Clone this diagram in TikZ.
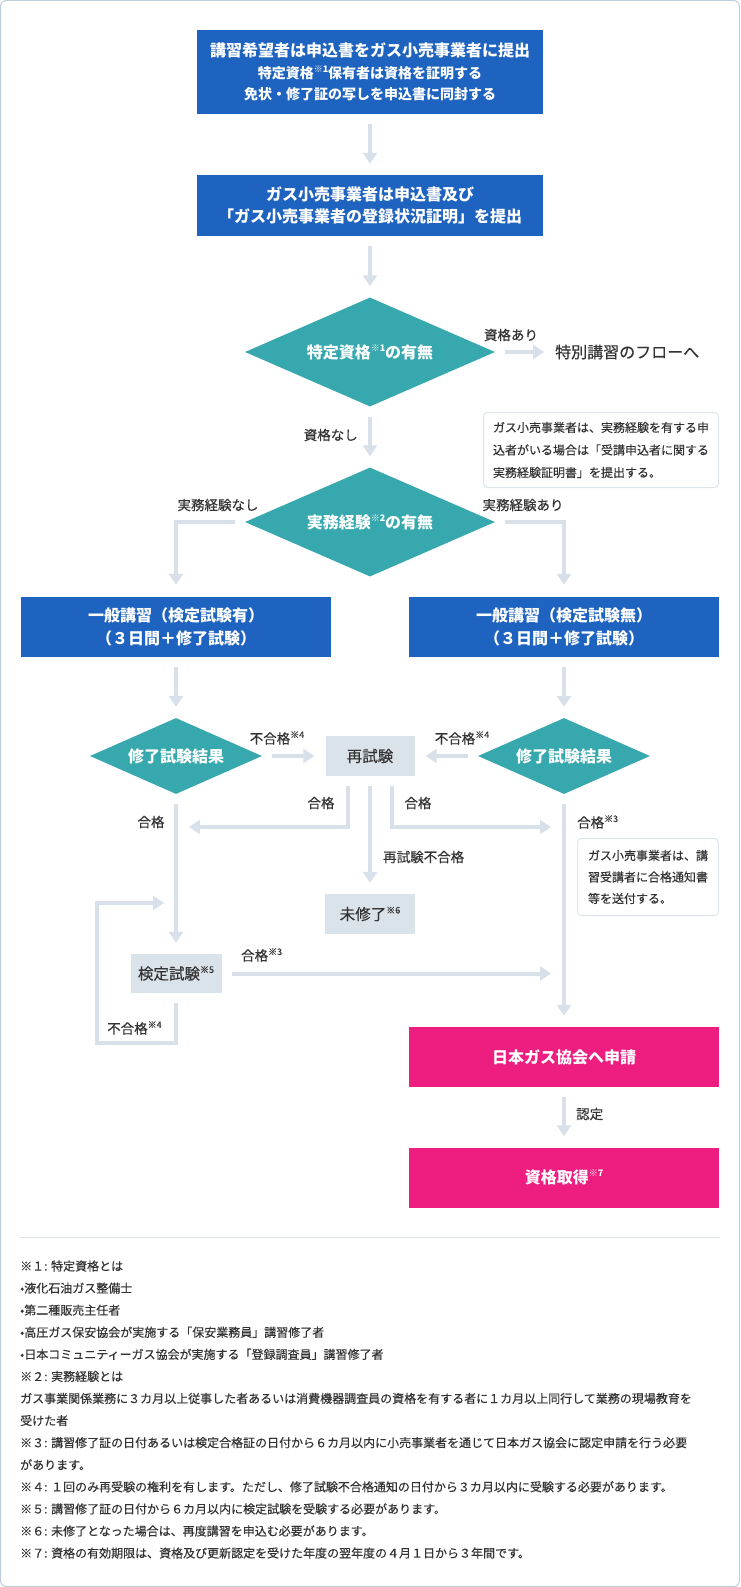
\documentclass[tikz,border=0pt]{standalone}
\usepackage{fontspec}
\setmainfont{Noto Sans CJK JP}
\newfontfamily\midjp{Noto Sans CJK JP}[FakeBold=0.35]
\usetikzlibrary{arrows.meta,shapes.geometric}

\definecolor{boxblue}{HTML}{1E63BF}
\definecolor{diateal}{HTML}{36A8AE}
\definecolor{boxpink}{HTML}{EE1E80}
\definecolor{boxgray}{HTML}{DBE3EA}
\definecolor{flowgray}{HTML}{D8E1E9}
\definecolor{textdark}{HTML}{333333}
\definecolor{framec}{HTML}{BFCEDD}
\definecolor{notec}{HTML}{DDE4EB}

\newcommand{\kome}[1]{\raisebox{0.42em}{\fontsize{9}{9}\selectfont ※#1}}

\tikzset{
  bluebox/.style={fill=boxblue, text=white, font=\bfseries\fontsize{16}{23}\selectfont, align=center, inner sep=0pt, minimum width=310pt, minimum height=60pt},
  pinkbox/.style={bluebox, fill=boxpink},
  graybox/.style={fill=boxgray, text=textdark, font=\midjp\fontsize{15.5}{20}\selectfont, inner sep=0pt},
  decision/.style={shape=diamond, fill=diateal, text=white, font=\bfseries\fontsize{16}{20}\selectfont, inner sep=0pt},
  note/.style={draw=notec, line width=1pt, rounded corners=4pt, text=textdark, align=left, inner sep=0pt},
  lbl/.style={text=textdark, font=\midjp\fontsize{13.5}{16}\selectfont, inner sep=0pt},
  fn/.style={text=textdark, font=\midjp\fontsize{12}{16}\selectfont, inner sep=0pt, anchor=west},
  flow/.style={draw=flowgray, line width=4pt, ->, shorten <=10pt, shorten >=11pt}
}

\begin{document}
\begin{tikzpicture}[x=1pt,y=-1pt,>={Triangle[length=11pt,width=14pt]}]
  \useasboundingbox (0,0) rectangle (740,1587);
  \draw[framec,line width=1pt,rounded corners=6pt] (0.5,0.5) rectangle (739.5,1586.5);

  % application
  \node[bluebox, minimum width=346pt, minimum height=84pt, font=\bfseries\fontsize{14}{21.5}\selectfont] (apply) at (370,72) {{\fontsize{16}{21.5}\selectfont 講習希望者は申込書をガス小売事業者に提出}\\特定資格\kome{1}保有者は資格を証明する\\免状・修了証の写しを申込書に同封する};
  \node[bluebox, minimum width=346pt, minimum height=61pt, font=\bfseries\fontsize{16}{22}\selectfont] (submit) at (370,205.5) {ガス小売事業者は申込書及び\\「ガス小売事業者の登録状況証明」を提出};

  % decisions
  \node[decision, minimum width=250pt, minimum height=109pt, aspect=2.3] (qual) at (370,352) {特定資格\kome{1}の有無};
  \node[anchor=west, inner sep=0pt, text=textdark, font=\midjp\fontsize{16}{20}\selectfont] (special) at (555,352) {特別講習のフローへ};
  \node[note, anchor=north west, minimum width=235pt, minimum height=75pt, font=\midjp\fontsize{12}{22.5}\selectfont] (note1) at (483,412) {ガス小売事業者は、実務経験を有する申\\込者がいる場合は「受講申込者に関する\\実務経験証明書」を提出する。};
  \node[decision, minimum width=250pt, minimum height=109pt, aspect=2.3] (exper) at (370,522) {実務経験\kome{2}の有無};

  % courses
  \node[bluebox] (coursea) at (176,627) {一般講習（検定試験有）\\（３日間＋修了試験）};
  \node[bluebox] (courseb) at (564,627) {一般講習（検定試験無）\\（３日間＋修了試験）};
  \node[decision, minimum width=172pt, minimum height=76pt, aspect=2.26] (resulta) at (176,756) {修了試験結果};
  \node[decision, minimum width=172pt, minimum height=76pt, aspect=2.26] (resultb) at (564,756) {修了試験結果};
  \node[graybox, minimum width=89pt, minimum height=40pt] (retest) at (370,756) {再試験};
  \node[graybox, minimum width=90pt, minimum height=40pt] (unfinished) at (370,914) {未修了\kome{6}};
  \node[graybox, minimum width=91pt, minimum height=39pt] (kentei) at (176,973.5) {検定試験\kome{5}};
  \node[note, anchor=north west, minimum width=141pt, minimum height=77pt, font=\midjp\fontsize{12}{21.5}\selectfont] (note2) at (577,838) {ガス小売事業者は、講\\習受講者に合格通知書\\等を送付する。};

  % society
  \node[pinkbox] (society) at (564,1057) {日本ガス協会へ申請};
  \node[pinkbox] (license) at (564,1177.5) {資格取得\kome{7}};

  \coordinate (lmerge) at (176,827);
  \coordinate (rmerge) at (564,827);
  \coordinate (kmerge) at (564,973.5);
  \coordinate (loopbot) at (97,1043);
  \coordinate (looptop) at (176,903);

  \draw[flow] (apply) -- (submit);
  \draw[flow] (submit) -- (qual);
  \draw[flow] (qual) -- (special);
  \draw[flow] (qual) -- (exper);
  \draw[flow, shorten >=12pt] (exper.west) -| (coursea.north);
  \draw[flow, shorten >=12pt] (exper.east) -| (courseb.north);
  \draw[flow] (coursea) -- (resulta);
  \draw[flow] (courseb) -- (resultb);
  \draw[flow] (resulta) -- (retest);
  \draw[flow] (resultb) -- (retest);
  \draw[flow, shorten >=13pt] ([xshift=-22pt]retest.south) |- (lmerge);
  \draw[flow, shorten >=13pt] ([xshift=22pt]retest.south) |- (rmerge);
  \draw[flow] (retest) -- (unfinished);
  \draw[flow] (resulta) -- (kentei);
  \draw[flow] (resultb) -- (society);
  \draw[flow, shorten >=13pt] (kentei) -- (kmerge);
  \draw[flow, shorten >=12pt] (kentei.south) |- (loopbot) |- (looptop);
  \draw[flow] (society) -- (license);

  % labels
  \node[lbl] (lqualyes) at (511,335) {資格あり};
  \node[lbl, anchor=east] (lqualno) at (358,435) {資格なし};
  \node[lbl] (lexpno) at (218,505) {実務経験なし};
  \node[lbl] (lexpyes) at (523,505) {実務経験あり};
  \node[lbl] (lfaila) at (277,738) {不合格\kome{4}};
  \node[lbl] (lfailb) at (462,738) {不合格\kome{4}};
  \node[lbl] (lpassl) at (321,803) {合格};
  \node[lbl] (lpassr) at (418,803) {合格};
  \node[lbl] (lpassa) at (151,822) {合格};
  \node[lbl, anchor=west] (lpassb) at (577,822) {合格\kome{3}};
  \node[lbl, anchor=west] (lrefail) at (383,857) {再試験不合格};
  \node[lbl, anchor=west] (lpassk) at (241,955) {合格\kome{3}};
  \node[lbl, anchor=west] (lfailk) at (107,1028) {不合格\kome{4}};
  \node[lbl, anchor=west] (lcert) at (576,1114) {認定};

  % footnotes
  \draw[notec, line width=1pt] (20,1237) -- (720,1237);
  \foreach \t [count=\i] in {※１: 特定資格とは, •液化石油ガス整備士, •第二種販売主任者, •高圧ガス保安協会が実施する「保安業務員」講習修了者, •日本コミュニティーガス協会が実施する「登録調査員」講習修了者, ※２: 実務経験とは, ガス事業関係業務に３カ月以上従事した者あるいは消費機器調査員の資格を有する者に１カ月以上同行して業務の現場教育を, 受けた者, ※３: 講習修了証の日付あるいは検定合格証の日付から６カ月以内に小売事業者を通じて日本ガス協会に認定申請を行う必要, があります。, ※４: １回のみ再受験の権利を有します。ただし、修了試験不合格通知の日付から３カ月以内に受験する必要があります。, ※５: 講習修了証の日付から６カ月以内に検定試験を受験する必要があります。, ※６: 未修了となった場合は、再度講習を申込む必要があります。, ※７: 資格の有効期限は、資格及び更新認定を受けた年度の翌年度の４月１日から３年間です。}
    \node[fn] (fn\i) at (20,{1266+22.08*(\i-1)}) {\t};
\end{tikzpicture}
\end{document}
